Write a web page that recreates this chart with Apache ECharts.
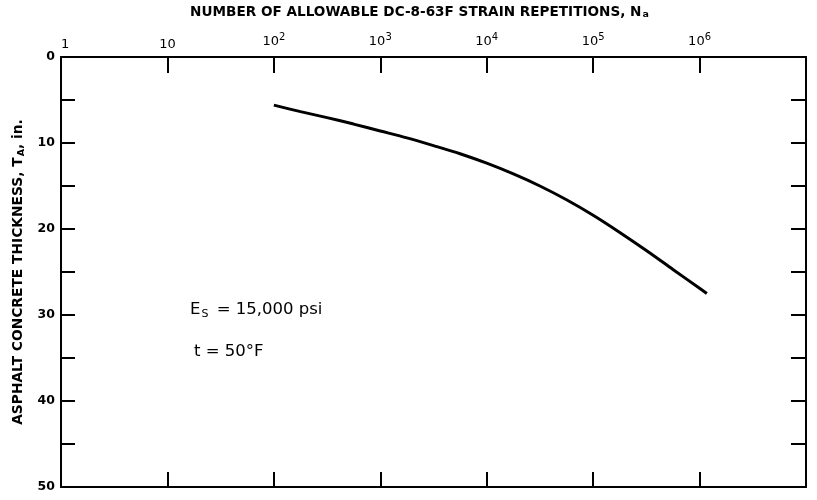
<!DOCTYPE html>
<html><head><meta charset="utf-8">
<script src="https://cdn.jsdelivr.net/npm/echarts@6/dist/echarts.min.js"></script>
<style>html,body{margin:0;padding:0;background:#fff}#c{width:817px;height:500px}</style>
</head><body><div id="c"></div>
<script>
const repetitions = [100, 178, 316, 562, 1000, 1780, 3160, 5620, 10000, 17800, 31600, 56200,
  100000, 178000, 316000, 562000, 1000000, 1170000];
const thickness = [5.6, 6.35, 7.05, 7.8, 8.6, 9.4, 10.3, 11.25, 12.35, 13.6, 15.0, 16.6,
  18.4, 20.4, 22.5, 24.7, 26.9, 27.5];
const yTickLabels = [0, 10, 20, 30, 40, 50];

const FONT = 'DejaVu Sans';
const chart = echarts.init(document.getElementById('c'));
const supRich = {
  b: {fontFamily: FONT, fontSize: 13, color: '#000'},
  s: {fontFamily: FONT, fontSize: 10, color: '#000', padding: [0, 0, 9, 0]}
};
function xLabel(v) {
  const e = Math.round(Math.log10(v));
  if (e === 0) return '{b|  1}';
  if (e === 1) return '{b|10}';
  if (e >= 7) return '';
  return '{b|10}{s|' + e + '}';
}
const tickStyle = {color: '#000', width: 2};
chart.setOption({
  animation: false,
  backgroundColor: '#fff',
  grid: {left: 61, right: 11, top: 57, bottom: 13},
  xAxis: [{
    type: 'log', logBase: 10, min: 1, max: 1e7, position: 'top',
    name: '{t|NUMBER OF ALLOWABLE DC-8-63F STRAIN REPETITIONS, N}{sub|a}',
    nameLocation: 'middle', nameGap: 37,
    nameTextStyle: {padding: [0, 28, 0, 0], rich: {
      t: {fontFamily: FONT, fontSize: 13.6, fontWeight: 'bold', color: '#000'},
      sub: {fontFamily: FONT, fontSize: 9.5, fontWeight: 'bold', color: '#000', padding: [6, 0, 0, 1]}
    }},
    axisLine: {onZero: false, lineStyle: {color: '#000', width: 2}},
    axisTick: {inside: true, length: 16, lineStyle: tickStyle},
    minorTick: {show: false},
    splitLine: {show: false},
    axisLabel: {formatter: xLabel, rich: supRich, margin: 6, showMaxLabel: false}
  }, {
    type: 'log', logBase: 10, min: 1, max: 1e7, position: 'bottom',
    axisLine: {onZero: false, lineStyle: {color: '#000', width: 2}},
    axisTick: {inside: true, length: 15, lineStyle: tickStyle},
    axisLabel: {show: false},
    splitLine: {show: false}
  }],
  yAxis: [{
    type: 'value', min: 0, max: 50, interval: 5, inverse: true, position: 'left',
    name: '{t|ASPHALT CONCRETE THICKNESS, T}{sub|A}{t|, in.}',
    nameLocation: 'middle', nameGap: 26, nameRotate: 90,
    nameTextStyle: {rich: {
      t: {fontFamily: FONT, fontSize: 13.8, fontWeight: 'bold', color: '#000'},
      sub: {fontFamily: FONT, fontSize: 9.5, fontWeight: 'bold', color: '#000', padding: [6, 0, 0, 1]}
    }},
    axisLine: {onZero: false, lineStyle: {color: '#000', width: 2}},
    axisTick: {inside: true, length: 14, lineStyle: tickStyle},
    splitLine: {show: false},
    axisLabel: {
      fontFamily: FONT, fontSize: 12.5, fontWeight: 'bold', color: '#000', margin: 6,
      formatter: v => yTickLabels.indexOf(v) >= 0 ? String(v) : ''
    }
  }, {
    type: 'value', min: 0, max: 50, interval: 5, inverse: true, position: 'right',
    axisLine: {show: true, onZero: false, lineStyle: {color: '#000', width: 2}},
    axisTick: {inside: true, length: 15, lineStyle: tickStyle},
    axisLabel: {show: false},
    splitLine: {show: false}
  }],
  series: [{
    type: 'line', xAxisIndex: 0, yAxisIndex: 0,
    data: repetitions.map((n, i) => [n, thickness[i]]),
    smooth: 0.3, showSymbol: false,
    lineStyle: {color: '#000', width: 3}
  }],
  graphic: [{
    type: 'text', left: 190, top: 301,
    style: {
      text: '{t|E}{sub|S}{t| = 15,000 psi}',
      rich: {
        t: {fontFamily: FONT, fontSize: 16.5, fill: '#000'},
        sub: {fontFamily: FONT, fontSize: 11, fill: '#000', padding: [9, 3, 0, 1]}
      }
    }
  }, {
    type: 'text', left: 194, top: 343,
    style: {
      text: '{t|t = 50°F}',
      rich: {
        t: {fontFamily: FONT, fontSize: 16.5, fill: '#000'}
      }
    }
  }]
});
</script></body></html>
